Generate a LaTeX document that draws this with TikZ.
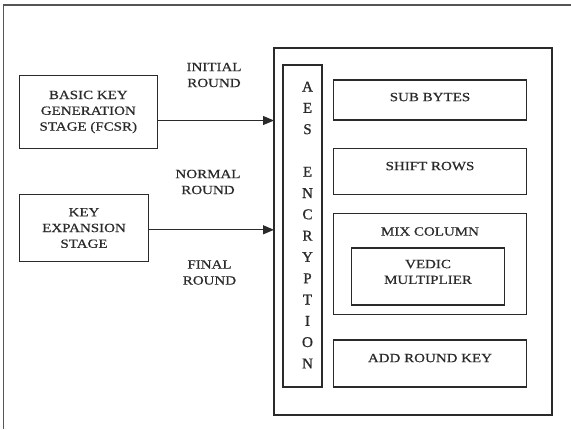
\documentclass[tikz,border=0pt]{standalone}
\usepackage{fontspec}
\setmainfont{Liberation Serif}
\newfontfamily\figfont[FakeStretch=1.2,FakeBold=0.6]{Liberation Serif}
\newfontfamily\aesfont[FakeBold=1]{Liberation Serif}
\usetikzlibrary{arrows.meta}
\definecolor{ink}{HTML}{2A2A2A}
\tikzset{
  box/.style={draw=ink, line width=1.3pt, rectangle, inner sep=0pt, align=center,
    font=\figfont\fontsize{12.5}{15.8}\selectfont, text=ink},
  lbl/.style={align=center, inner sep=0pt, font=\figfont\fontsize{12.5}{16}\selectfont, text=ink},
  arr/.style={draw=ink, line width=1.2pt, -{Triangle[length=11pt,width=9pt]}}
}
\begin{document}
\begin{tikzpicture}[x=1pt,y=-1pt]
\useasboundingbox (0,0) rectangle (571,429);
% outer frame (left and top edges)
\coordinate (fbl) at (3.5,429);
\coordinate (ftl) at (3.5,5);
\coordinate (ftr) at (571,5);
\draw[draw=ink!80, line width=1.4pt] (fbl) -- (ftl) -- (ftr);

% AES block
\node[box, minimum width=278pt, minimum height=367pt] (aes) at (413,231.5) {};
\node[box, minimum width=39pt, minimum height=322pt] (aesv) at (302.5,226) {};
\node[lbl, font=\aesfont\fontsize{15}{21.3}\selectfont] (aestxt) at (307.5,225)
  {A\\E\\S\\\mbox{}\\E\\N\\C\\R\\Y\\P\\T\\I\\O\\N};

\node[box, minimum width=193pt, minimum height=40pt, text depth=6pt] (sub) at (430,100) {SUB BYTES};
\node[box, minimum width=193pt, minimum height=46pt, text depth=11pt] (shift) at (430,171.5) {SHIFT ROWS};
\node[box, minimum width=193pt, minimum height=101pt] (mix) at (430,263.7) {};
\node[lbl] (mixtxt) at (430,231.5) {MIX COLUMN};
\node[box, minimum width=153pt, minimum height=57pt, text depth=9pt] (vedic) at (428,276.4) {VEDIC\\MULTIPLIER};
\node[box, minimum width=193pt, minimum height=47pt, text depth=11pt] (add) at (430,363.5) {ADD ROUND KEY};

% key stages
\node[box, minimum width=138pt, minimum height=72.5pt] (basic) at (88.3,112)
  {BASIC KEY\\GENERATION\\STAGE (FCSR)};
\node[box, minimum width=129.3pt, minimum height=66.7pt] (keyexp) at (84,228)
  {KEY\\EXPANSION\\STAGE};

% labels
\node[lbl] (initial) at (214,75) {INITIAL\\ROUND};
\node[lbl] (normal) at (208,182) {NORMAL\\ROUND};
\node[lbl] (final) at (209.5,272.5) {FINAL\\ROUND};

% arrows
\coordinate (a1) at (274,120.5);
\draw[arr] (basic.east |- a1) -- (a1);
\coordinate (a2) at (274,229.8);
\draw[arr] (keyexp.east |- a2) -- (a2);
\end{tikzpicture}
\end{document}
